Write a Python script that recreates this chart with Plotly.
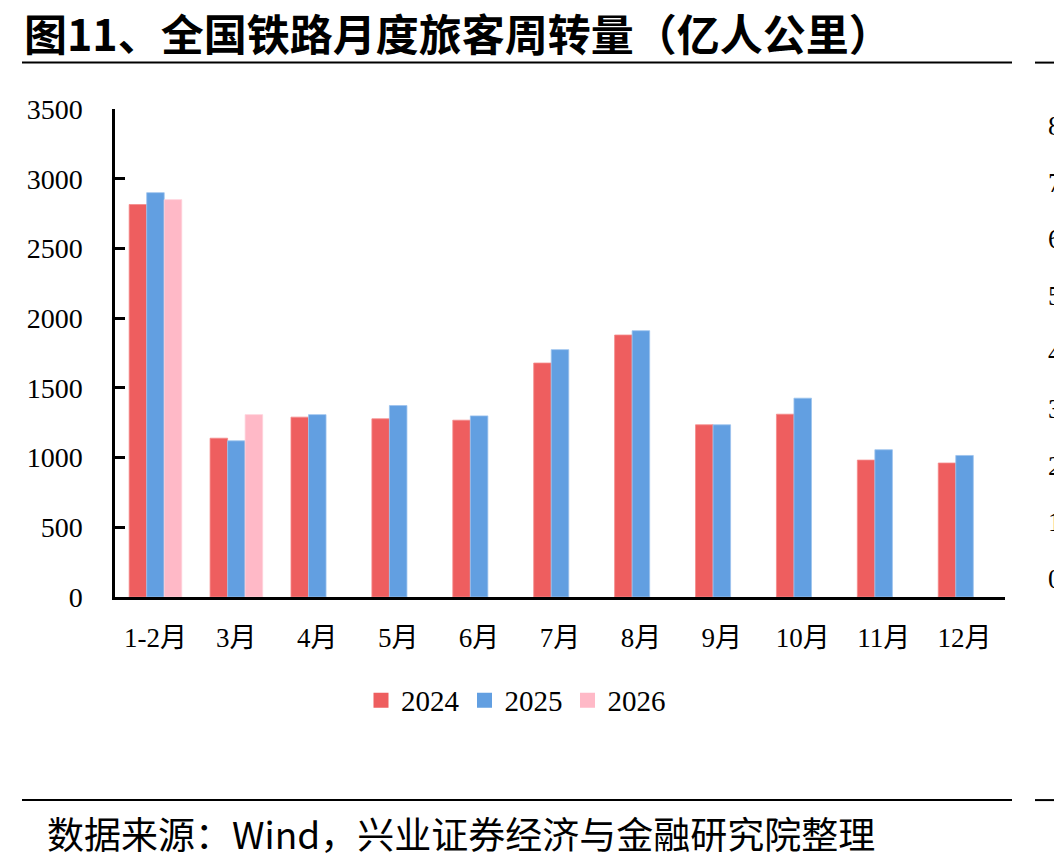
import plotly.graph_objects as go

categories = ["1-2月", "3月", "4月", "5月", "6月", "7月", "8月", "9月", "10月", "11月", "12月"]
s2024 = [2815, 1139, 1290, 1278, 1268, 1678, 1879, 1235, 1311, 982, 961]
s2025 = [2900, 1120, 1308, 1373, 1299, 1774, 1910, 1235, 1426, 1056, 1015]
s2026 = [2850, 1308, None, None, None, None, None, None, None, None, None]
y_ticks = [0, 500, 1000, 1500, 2000, 2500, 3000, 3500]
side_ticks = ["8", "7", "6", "5", "4", "3", "2", "1", "0"]

W, H = 1054, 868
L, R = 115, 1005
T, B = 108.5, 597.5

def px(x):
    return (x - L) / (R - L)

def py(y):
    return (B - y) / (B - T)

SERIF = "Liberation Serif, Times New Roman, Noto Sans CJK SC, serif"
SANS = "Noto Sans CJK SC, Arial, sans-serif"

series = [("2024", s2024, "#EE5E5F", "#F58A8A"),
          ("2025", s2025, "#629FE1", "#9CC3EE"),
          ("2026", s2026, "#FFB9C7", "#FFD0DA")]

fig = go.Figure()
for name, vals, col, edge in series:
    fig.add_bar(x=categories, y=vals, name=name, showlegend=False,
                marker=dict(color=col, line=dict(color=edge, width=0.8)))
for name, vals, col, edge in series:
    fig.add_scatter(x=[None], y=[None], mode="markers", name=name, showlegend=True,
                    marker=dict(symbol="square", size=15, color=col, line=dict(width=0)))

annotations = [
    dict(text="<b>图11、全国铁路月度旅客周转量（亿人公里）</b>", x=px(22), y=py(31), xref="paper", yref="paper",
         xanchor="left", yanchor="middle", showarrow=False, font=dict(family=SANS, size=43, color="black")),
    dict(text="数据来源：Wind，兴业证券经济与金融研究院整理", x=px(45), y=py(834), xref="paper", yref="paper",
         xanchor="left", yanchor="middle", showarrow=False, font=dict(family=SANS, size=37, color="black")),
]
top_side, bot_side = 126, 579
step = (bot_side - top_side) / (len(side_ticks) - 1)
for i, t in enumerate(side_ticks):
    annotations.append(dict(text=t, x=px(1046), y=py(top_side + i * step), xref="paper", yref="paper",
                            xanchor="left", yanchor="middle", showarrow=False,
                            font=dict(family=SERIF, size=27, color="black")))

shapes = []
for yy in (62, 801):
    shapes.append(dict(type="line", xref="paper", yref="paper", x0=px(22), x1=px(1012), y0=py(yy), y1=py(yy),
                       line=dict(color="black", width=2)))
    shapes.append(dict(type="line", xref="paper", yref="paper", x0=px(1035), x1=px(1060), y0=py(yy), y1=py(yy),
                       line=dict(color="black", width=2)))

fig.update_layout(
    width=W, height=H,
    margin=dict(l=L, r=W - R, t=T, b=H - B, pad=0),
    paper_bgcolor="white", plot_bgcolor="white",
    barmode="group", bargap=0.35, bargroupgap=0,
    showlegend=True,
    legend=dict(orientation="h", x=px(516), y=py(701), xanchor="center", yanchor="middle",
                font=dict(family=SERIF, size=29, color="black"), itemwidth=30, tracegroupgap=0,
                bgcolor="rgba(0,0,0,0)"),
    annotations=annotations,
    shapes=shapes,
    font=dict(family=SERIF, color="black"),
)
fig.update_xaxes(showline=True, linecolor="black", linewidth=2.5, ticks="", showgrid=False,
                 tickfont=dict(family=SERIF, size=27, color="black"), ticklabelstandoff=15)
fig.update_yaxes(range=[0, 3500], tickvals=y_ticks, showline=True, linecolor="black", linewidth=2.5,
                 ticks="inside", ticklen=10, tickwidth=2.5, tickcolor="black", showgrid=False, zeroline=False,
                 tickfont=dict(family=SERIF, size=28, color="black"), ticklabelstandoff=24)

fig.write_html("out.html")
